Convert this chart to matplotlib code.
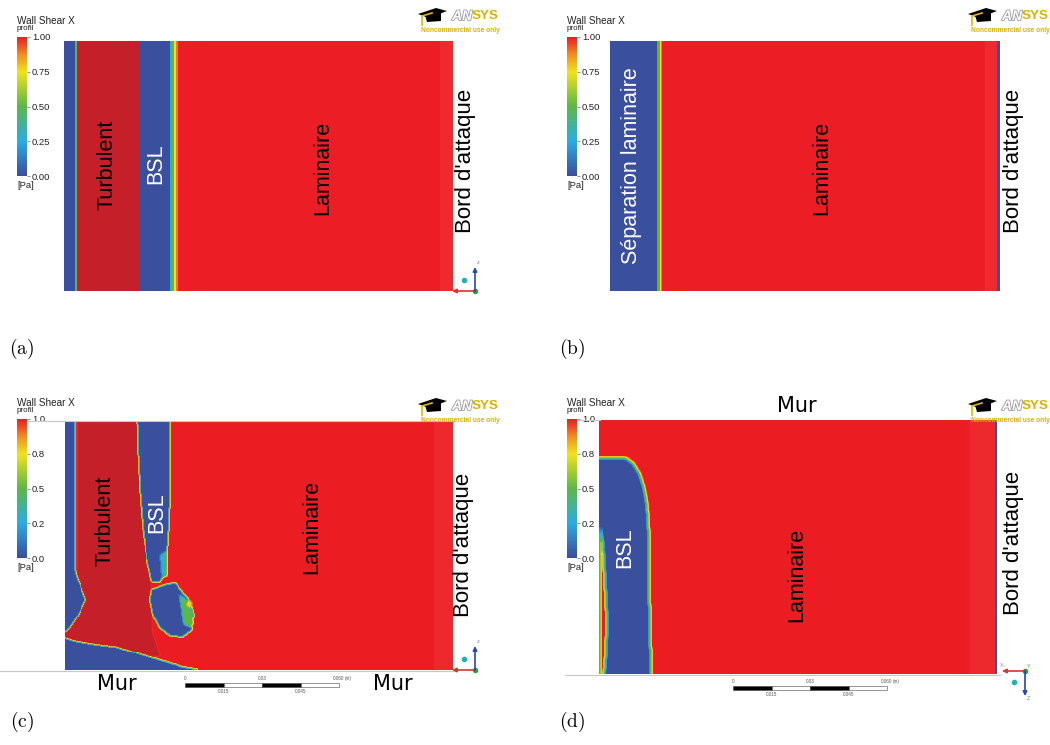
import numpy as np
import matplotlib.pyplot as plt
import matplotlib.patheffects as pe
from matplotlib.colors import LinearSegmentedColormap, Normalize
from matplotlib.path import Path
from matplotlib.patches import Rectangle, Polygon

plt.rcParams['font.family'] = ['Liberation Sans', 'DejaVu Sans']
plt.rcParams['mathtext.fontset'] = 'cm'

# echelle de couleur (Wall Shear X en Pa) ; au-dessus de 1 = rouges satures
scale_pos = [0.0, 0.25, 0.5, 0.75, 0.88, 1.0, 1.1, 1.2, 1.3]
scale_col = ['#3b4f9f', '#2bade4', '#5db847', '#f1e31d', '#f28d22',
             '#ec1c24', '#ee2a2e', '#c51f2a', '#c51f2a']
ticks_ab = ['0.00', '0.25', '0.50', '0.75', '1.00']
ticks_cd = ['0.0', '0.2', '0.5', '0.8', '1.0']

# (a) et (b) : bandes le long de la corde (x/c) et leur valeur
a_edges = [0.0, 0.028, 0.033, 0.195, 0.272, 0.278, 0.283, 0.288, 0.293, 0.967, 1.0]
a_shear = [0.0, 0.45, 1.25, 0.0, 0.25, 0.5, 0.75, 0.9, 1.0, 1.1]
b_edges = [0.0, 0.120, 0.124, 0.127, 0.130, 0.133, 0.962, 0.993, 1.0]
b_shear = [0.0, 0.25, 0.5, 0.75, 0.9, 1.0, 1.1, 0.0]

# (c) : zones (x/c, z/h)
c_turbulent = [(0.0, 1.0), (0.186, 1.0), (0.191, 0.763), (0.198, 0.602), (0.209, 0.502),
               (0.219, 0.382), (0.227, 0.281), (0.224, 0.161), (0.245, 0.056), (0.0, 0.056)]
c_bsl_top = [(0.186, 1.0), (0.271, 1.0), (0.271, 0.803), (0.268, 0.602), (0.263, 0.482),
             (0.258, 0.402), (0.245, 0.353), (0.224, 0.353), (0.211, 0.442), (0.201, 0.562),
             (0.193, 0.723), (0.188, 0.884)]
c_bsl_blob = [(0.224, 0.321), (0.258, 0.341), (0.284, 0.349), (0.302, 0.313), (0.322, 0.281),
              (0.332, 0.221), (0.327, 0.161), (0.304, 0.133), (0.271, 0.137), (0.245, 0.169),
              (0.227, 0.221), (0.219, 0.281)]
c_spot_green = [(0.296, 0.301), (0.322, 0.273), (0.330, 0.209), (0.327, 0.169), (0.307, 0.181), (0.302, 0.241)]
c_spot_yellow = [(0.318, 0.285), (0.328, 0.270), (0.325, 0.250), (0.315, 0.260)]
c_spot_cyan = [(0.245, 0.460), (0.263, 0.480), (0.262, 0.380), (0.250, 0.370)]
c_trail_sep = [(0.0, 1.0), (0.026, 1.0), (0.026, 0.400), (0.039, 0.341), (0.054, 0.281),
               (0.034, 0.221), (0.013, 0.170), (0.0, 0.150)]
c_trail_line = [(0.026, 0.400), (0.031, 0.400), (0.031, 1.0), (0.026, 1.0)]
c_wall_sep = [(0.0, 0.129), (0.026, 0.116), (0.090, 0.100), (0.134, 0.092), (0.219, 0.052),
              (0.304, 0.012), (0.348, 0.0), (0.0, 0.0)]
c_le = 0.95

# (d)
d_bsl = [(0.0, 0.850), (0.068, 0.850), (0.085, 0.830), (0.101, 0.791), (0.111, 0.739),
         (0.118, 0.688), (0.123, 0.609), (0.126, 0.451), (0.126, 0.292), (0.128, 0.134),
         (0.131, 0.0), (0.0, 0.0)]
d_red_streak = [(0.003, 0.577), (0.010, 0.510), (0.015, 0.372), (0.020, 0.213),
                (0.018, 0.095), (0.013, 0.0), (0.003, 0.0)]
d_le = 0.93
d_le_line = 0.995

W, H = 1050, 745
fig = plt.figure(figsize=(W / 100, H / 100), dpi=100)
cmap = LinearSegmentedColormap.from_list('ansys', list(zip(np.array(scale_pos) / 1.3, scale_col)))
norm = Normalize(0, 1.3)

deco = fig.add_axes([0, 0, 1, 1], zorder=5)
deco.set_xlim(0, W)
deco.set_ylim(H, 0)
deco.axis('off')


def box(x0, y0, x1, y1):
    return fig.add_axes([x0 / W, 1 - y1 / H, (x1 - x0) / W, (y1 - y0) / H])


def contour_axes(x0, y0, x1, y1):
    ax = box(x0, y0, x1, y1)
    ax.set_xlim(0, 1)
    ax.set_ylim(0, 1)
    ax.axis('off')
    return ax


nx, nz = 400, 256
gx = (np.arange(nx) + 0.5) / nx
gz = (np.arange(nz) + 0.5) / nz
GX, GZ = np.meshgrid(gx, gz)
pts = np.c_[GX.ravel(), GZ.ravel()]


def paint(field, poly, value):
    mask = Path(poly).contains_points(pts).reshape(field.shape)
    field[mask] = value


def smooth(f, k):
    p = k // 2
    g = np.pad(f, p, mode='edge')
    ker = np.ones(k) / k
    g = np.apply_along_axis(np.convolve, 1, g, ker, 'valid')
    g = np.apply_along_axis(np.convolve, 0, g, ker, 'valid')
    return g


def legend_bar(x0, y0, y1, labels):
    cax = box(x0, y0, x0 + 10, y1)
    cax.imshow(np.linspace(0, 1, 200)[:, None], origin='lower', extent=[0, 1, 0, 1],
               aspect='auto', cmap=cmap, norm=norm)
    cax.set_xticks([])
    cax.yaxis.tick_right()
    cax.set_yticks([0, 0.25, 0.5, 0.75, 1.0], labels)
    cax.tick_params(axis='y', length=2, width=0.5, pad=1.5, labelsize=6.8,
                    color='#666666', labelcolor='#222222')
    for s in cax.spines.values():
        s.set_visible(False)
    deco.text(x0, y0 - 16, 'Wall Shear X', fontsize=7.2, color='#222222', va='center')
    deco.text(x0, y0 - 8, 'profil', fontsize=5.8, color='#222222', va='center')
    deco.text(x0, y1 + 9, '[Pa]', fontsize=6.8, color='#222222', va='center')


def logo(dx, dy):
    deco.add_patch(Polygon([(418 + dx, 14 + dy), (436 + dx, 8 + dy), (447 + dx, 11 + dy),
                            (429 + dx, 18 + dy)], color='k', lw=0))
    deco.add_patch(Polygon([(425 + dx, 15 + dy), (441 + dx, 13 + dy), (441 + dx, 21 + dy),
                            (427 + dx, 22 + dy)], color='k', lw=0))
    deco.plot([432 + dx, 422 + dx, 422 + dx], [13 + dy, 16 + dy, 25 + dy], color='#e0b800', lw=1.2)
    deco.text(472 + dx, 16 + dy, 'AN', ha='right', va='center', fontsize=10, fontweight='bold',
              style='italic', color='white',
              path_effects=[pe.withStroke(linewidth=1.2, foreground='#9a9a9a')])
    deco.text(472 + dx, 16 + dy, 'SYS', ha='left', va='center', fontsize=9.6, fontweight='bold',
              color='#d9b200')
    deco.text(460 + dx, 30 + dy, 'Noncommercial use only', ha='center', va='center',
              fontsize=4.8, fontweight='bold', color='#d9b200')


def arrow(x0, y0, x1, y1, c):
    deco.annotate('', xy=(x1, y1), xytext=(x0, y0),
                  arrowprops=dict(arrowstyle='-|>', color=c, lw=1.2, mutation_scale=6,
                                  shrinkA=0, shrinkB=0))


def triad(x, y, down=False):
    arrow(x, y, x - 23, y, '#d23a2a')
    if down:
        arrow(x, y, x, y + 25, '#2846b4')
        deco.plot(x - 11, y + 11, 'o', ms=3, color='#22b0b8')
        deco.text(x - 25, y - 4, 'X', fontsize=4, color='#e08080')
        deco.text(x + 2, y - 3, 'Y', fontsize=4, color='#40a040')
        deco.text(x + 2, y + 29, 'Z', fontsize=4, color='#6080d0')
    else:
        arrow(x, y, x, y - 24, '#2846b4')
        deco.plot(x - 11, y - 11, 'o', ms=3, color='#22b0b8')
        deco.text(x + 2, y - 27, 'z', fontsize=4, color='#6080d0')
    deco.plot(x, y, 'o', ms=3, color='#28a040')


def scale_bar(x0, y0):
    seg = 38.5
    for i in range(4):
        deco.add_patch(Rectangle((x0 + i * seg, y0), seg, 4, facecolor='k' if i % 2 == 0 else 'w',
                                 edgecolor='#444444', lw=0.4))
    for i, t in [(0, '0'), (2, '0.03'), (4, '0.060')]:
        deco.text(x0 + i * seg, y0 - 3, t, fontsize=3.3, color='#555555', ha='center')
    deco.text(x0 + 4 * seg + 6, y0 - 3, '(m)', fontsize=3.3, color='#555555')
    for i, t in [(1, '0.015'), (3, '0.045')]:
        deco.text(x0 + i * seg, y0 + 10, t, fontsize=3.3, color='#555555', ha='center')


def vlabel(x, y, s, c='k', size=15.5):
    deco.text(x, y, s, rotation=90, ha='center', va='center', fontsize=size, color=c)


# ---------- (a)
ax = contour_axes(64, 41, 453, 291)
ax.pcolormesh(a_edges, [0, 1], np.array([a_shear]), cmap=cmap, norm=norm)
legend_bar(17, 37, 176, ticks_ab)
logo(0, 0)
triad(475, 291)
vlabel(107, 165, 'Turbulent')
vlabel(156, 164, 'BSL', 'white')
vlabel(323, 168, 'Laminaire')
vlabel(465, 161, "Bord d'attaque", size=16)
deco.text(22, 349, r'$\mathrm{(a)}$', fontsize=14, ha='center', va='center')

# ---------- (b)
ax = contour_axes(610, 41, 1000, 291)
ax.pcolormesh(b_edges, [0, 1], np.array([b_shear]), cmap=cmap, norm=norm)
legend_bar(567, 37, 176, ticks_ab)
logo(550, 0)
vlabel(631, 166, 'Séparation laminaire', 'white')
vlabel(822, 168, 'Laminaire')
vlabel(1014, 161, "Bord d'attaque", size=16)
deco.text(572, 349, r'$\mathrm{(b)}$', fontsize=14, ha='center', va='center')

# ---------- (c)
fc = np.ones((nz, nx))
fc[:, gx > c_le] = 1.1
paint(fc, c_turbulent, 1.25)
paint(fc, c_bsl_top, 0.0)
paint(fc, c_bsl_blob, 0.0)
paint(fc, c_spot_green, 0.5)
paint(fc, c_spot_yellow, 0.78)
paint(fc, c_spot_cyan, 0.3)
paint(fc, c_trail_sep, 0.0)
paint(fc, c_trail_line, 0.85)
paint(fc, c_wall_sep, 0.0)
ax = contour_axes(65, 421, 453, 670)
ax.imshow(smooth(fc, 3), origin='lower', extent=[0, 1, 0, 1], aspect='auto',
          cmap=cmap, norm=norm, interpolation='nearest')
legend_bar(17, 419, 558, ticks_cd)
deco.plot([27, 455], [421, 421], color='#c8c8c8', lw=0.8)
deco.plot([0, 456], [670.5, 670.5], color='#c8c8c8', lw=0.8)
logo(0, 390)
triad(475, 670)
scale_bar(185, 683)
vlabel(105, 521, 'Turbulent')
vlabel(157, 513, 'BSL', 'white')
vlabel(312, 527, 'Laminaire')
vlabel(463, 545, "Bord d'attaque", size=16)
deco.text(117, 684, 'Mur', fontsize=15, family='DejaVu Sans', ha='center', va='center')
deco.text(393, 684, 'Mur', fontsize=15, family='DejaVu Sans', ha='center', va='center')
deco.text(22, 722, r'$\mathrm{(c)}$', fontsize=14, ha='center', va='center')

# ---------- (d)
fd = np.ones((nz, nx))
fd[:, gx > d_le] = 1.1
paint(fd, d_bsl, 0.0)
paint(fd, d_red_streak, 1.0)
fd_s = smooth(fd, 5)
fd_s[:, gx > d_le_line] = 0.0
ax = contour_axes(599, 420, 997, 674)
ax.imshow(fd_s, origin='lower', extent=[0, 1, 0, 1], aspect='auto',
          cmap=cmap, norm=norm, interpolation='nearest')
legend_bar(567, 419, 558, ticks_cd)
deco.plot([577, 600], [420, 420], color='#c8c8c8', lw=0.8)
deco.plot([565, 1000], [674.5, 674.5], color='#c8c8c8', lw=0.8)
logo(550, 390)
triad(1025, 671, down=True)
scale_bar(733, 686)
vlabel(625, 548, 'BSL', 'white')
vlabel(797, 575, 'Laminaire')
vlabel(1014, 543, "Bord d'attaque", size=16)
deco.text(797, 406, 'Mur', fontsize=15, family='DejaVu Sans', ha='center', va='center')
deco.text(572, 722, r'$\mathrm{(d)}$', fontsize=14, ha='center', va='center')

fig.savefig('out.png', dpi=100)
